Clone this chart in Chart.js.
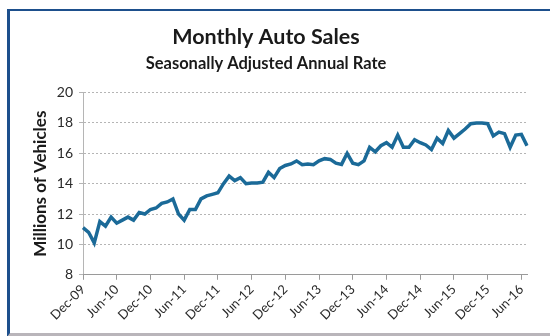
<!DOCTYPE html>
<html>
<head>
<meta charset="utf-8">
<script src="https://cdn.jsdelivr.net/npm/chart.js@4.4.1/dist/chart.umd.min.js"></script>
<style>
  html, body { margin: 0; padding: 0; background: #fff; }
  #wrap { position: relative; width: 550px; height: 336px; overflow: hidden; }
  #autoChart { position: absolute; left: 0; top: 0; }
  #frame {
    position: absolute; left: 7px; top: 9px; width: 545px; height: 322px;
    border-left: 3px solid #1d4f8c; border-top: 2px solid #1d4f8c;
    border-bottom: 4px solid #b9b5ba; pointer-events: none;
  }
</style>
</head>
<body>
<div id="wrap">
  <canvas id="autoChart" width="550" height="336"></canvas>
  <div id="frame"></div>
</div>
<script>
// month labels, Dec-09 through Jul-16
const monthNames = ["Jan","Feb","Mar","Apr","May","Jun","Jul","Aug","Sep","Oct","Nov","Dec"];
const months = [];
for (let y = 2009, m = 11; y < 2016 || (y === 2016 && m <= 6); m++) {
  if (m > 11) { m = 0; y++; }
  months.push(monthNames[m] + "-" + String(y).slice(2));
}

// SAAR, millions of vehicles
const sales = [
  11.1, 10.8, 10.1, 11.5, 11.2, 11.8, 11.4, 11.6, 11.8, 11.6, 12.1, 12.0,
  12.3, 12.4, 12.7, 12.8, 13.0, 12.0, 11.6, 12.3, 12.3, 13.0, 13.2, 13.3,
  13.4, 14.0, 14.5, 14.2, 14.4, 14.0, 14.05, 14.05, 14.1, 14.75, 14.4, 15.0,
  15.2, 15.3, 15.5, 15.25, 15.3, 15.25, 15.5, 15.65, 15.6, 15.35, 15.27, 16.0,
  15.35, 15.25, 15.5, 16.4, 16.1, 16.5, 16.7, 16.4, 17.2, 16.4, 16.4, 16.9,
  16.7, 16.55, 16.25, 17.0, 16.65, 17.5, 17.0, 17.3, 17.6, 17.95, 18.0, 18.0,
  17.95, 17.15, 17.4, 17.3, 16.4, 17.2, 17.25, 16.5
];

const yTicks = [8, 10, 12, 14, 16, 18, 20];
const tickEvery = 6;

const fontFamily = "Lato, 'Open Sans', sans-serif";

const ctx = document.querySelector("#autoChart");
const salesChart = new Chart(ctx, {
  type: "line",
  data: {
    labels: months,
    datasets: [
      {
        label: "Monthly Auto Sales",
        data: sales,
        borderColor: "#1b6a98",
        borderWidth: 3.5,
        pointRadius: 0,
        tension: 0,
        fill: false,
      },
    ],
  },
  options: {
    responsive: false,
    animation: false,
    layout: { padding: { left: 5, right: 23, bottom: 11, top: 0 } },
    plugins: {
      legend: { display: false },
      tooltip: { enabled: false },
      title: {
        display: true,
        text: "Monthly Auto Sales",
        color: "#1a1a1a",
        font: { family: fontFamily, size: 21.5, weight: "bold" },
        padding: { top: 24, bottom: 4 },
      },
      subtitle: {
        display: true,
        text: "Seasonally Adjusted Annual Rate",
        color: "#1a1a1a",
        font: { family: fontFamily, size: 16.5, weight: "bold" },
        padding: { top: 0, bottom: 19 },
      },
    },
    scales: {
      y: {
        min: yTicks[0],
        max: yTicks[yTicks.length - 1],
        afterBuildTicks: (axis) => {
          axis.ticks = yTicks.map((v) => ({ value: v }));
        },
        // fixed axis width keeps the plot edge at x = 83
        afterFit: (axis) => {
          axis.width = 78;
        },
        ticks: {
          color: "#2a2a2a",
          font: { family: fontFamily, size: 14 },
          padding: 6,
        },
        grid: {
          color: "#b5b5b5",
          tickLength: 4,
        },
        border: { display: true, color: "#b5b5b5", dash: [2, 2] },
        title: {
          display: true,
          text: "Millions of Vehicles",
          color: "#1a1a1a",
          font: { family: fontFamily, size: 17, weight: "bold" },
          padding: { top: 25, bottom: 4 },
        },
      },
      x: {
        ticks: {
          autoSkip: false,
          maxRotation: 45,
          minRotation: 45,
          color: "#2a2a2a",
          font: { family: fontFamily, size: 13 },
          padding: 2,
          callback: function (value, index) {
            return index % tickEvery === 0 ? months[index] : null;
          },
        },
        grid: {
          drawOnChartArea: false,
          color: "#9a9a9a",
          tickLength: 5,
        },
        border: { display: true, color: "#9a9a9a" },
      },
    },
  },
});

// dotted horizontal gridlines
salesChart.options.scales.y.grid.borderDash = [2, 2];
salesChart.options.scales.y.border.dash = [2, 2];
salesChart.update();
</script>
</body>
</html>
